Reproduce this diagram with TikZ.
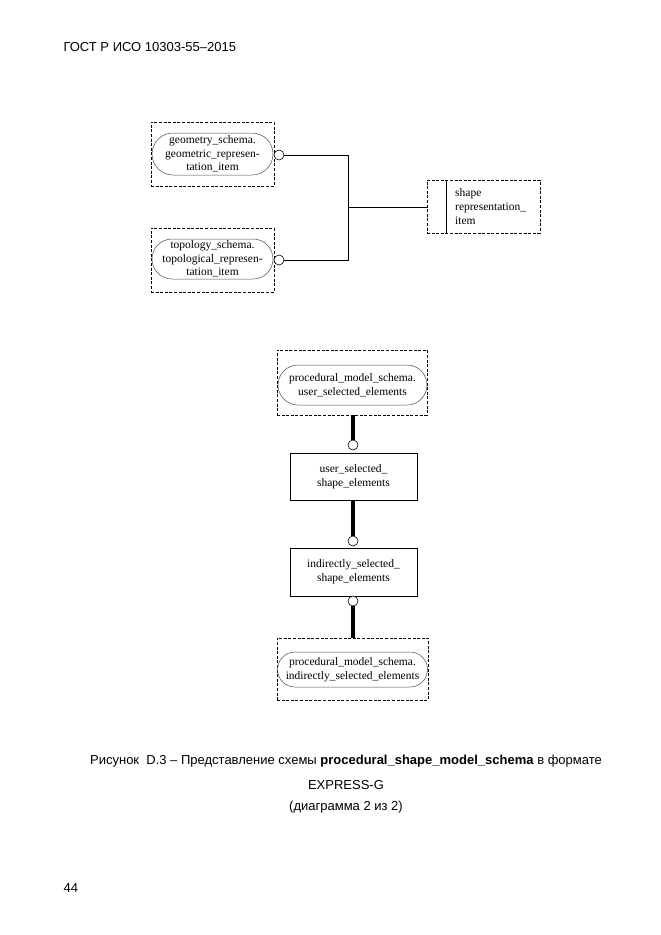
\documentclass[tikz,border=0pt]{standalone}
\usepackage{fontspec}
\setmainfont{Liberation Serif}
\newfontfamily\capfont{Liberation Sans}
\begin{document}
\begin{tikzpicture}[x=1pt,y=-1pt,
  dbox/.style 2 args={draw, dash pattern=on 3pt off 1.6pt, line width=0.6pt, minimum width=#1, minimum height=#2, inner sep=0pt},
  pill/.style n args={3}{draw=black!70, line width=0.5pt, rounded corners=#3, minimum width=#1, minimum height=#2, inner sep=0pt, align=center, font=\fontsize{11.5}{13.5}\selectfont},
  ebox/.style 2 args={draw, line width=0.6pt, minimum width=#1, minimum height=#2, inner sep=0pt, align=center, font=\fontsize{11.5}{14}\selectfont},
  ring/.style={draw, circle, fill=white, line width=0.6pt, minimum size=10pt, inner sep=0pt},
  thin/.style={line width=0.6pt},
  thick/.style={line width=4pt},
  captxt/.style={font=\capfont\fontsize{13}{15}\selectfont}
]
\useasboundingbox (0,0) rectangle (661,935);

% header and page number
\node[captxt, anchor=west] (hdr) at (60,47) {ГОСТ Р ИСО 10303-55–2015};
\node[captxt, anchor=west] (pg) at (60,888) {44};

% ---------- top diagram ----------
\node[dbox={123pt}{64pt}] (gbox) at (212.5,154) {};
\node[pill={121pt}{42pt}{21pt}] (gpill) at (212.5,154) {geometry\_schema.\\geometric\_represen-\\tation\_item};
\node[ring] (gring) at (279,155) {};

\node[dbox={123pt}{64pt}] (tbox) at (212.5,260) {};
\node[pill={121pt}{40pt}{20pt}] (tpill) at (212.5,259) {topology\_schema.\\topological\_represen-\\tation\_item};
\node[ring] (tring) at (279,260) {};

\node[dbox={113pt}{53pt}] (sbox) at (483.5,206.5) {};
\coordinate (sbar) at (446,180);
\draw[thin] (sbar) -- ++(0,53);
\node[anchor=west, align=left, inner sep=0pt, font=\fontsize{11.5}{14}\selectfont] (stxt) at (455,207) {shape\\representation\_\\item};

\coordinate (jt) at (348,155);
\coordinate (jb) at (348,260);
\coordinate (jm) at (348,207);
\draw[thin] (gring.east) -- (jt) -- (jb) -- (tring.east);
\draw[thin] (jm) -- (sbox.west |- jm);

% ---------- lower diagram ----------
\node[dbox={150pt}{65pt}] (ubox) at (352,382.5) {};
\node[pill={149pt}{40pt}{20pt}] (upill) at (352.5,385) {procedural\_model\_schema.\\user\_selected\_elements};
\node[ring] (r1) at (353,445) {};

\node[ebox={127pt}{47pt}] (ea) at (353.5,476.5) {user\_selected\_\\shape\_elements};
\node[ring] (r2) at (353,541) {};

\node[ebox={127pt}{48pt}] (eb) at (353.5,572) {indirectly\_selected\_\\shape\_elements};
\node[ring] (r3) at (353,601) {};

\node[dbox={151pt}{62pt}] (ibox) at (352.5,669) {};
\node[pill={150pt}{35pt}{17.5pt}] (ipill) at (352.5,669.5) {procedural\_model\_schema.\\indirectly\_selected\_elements};

\draw[thick] (r1.north) -- (r1.north |- ubox.south);
\draw[thick] (r2.north) -- (r2.north |- ea.south);
\draw[thick] (r3.south) -- (r3.south |- ibox.north);

% ---------- caption ----------
\node[captxt] (cap1) at (346,761) {Рисунок\ \ D.3 – Представление схемы \textbf{procedural\_shape\_model\_schema} в формате};
\node[captxt] (cap2) at (346,785) {EXPRESS-G};
\node[captxt] (cap3) at (346,807) {(диаграмма 2 из 2)};
\end{tikzpicture}
\end{document}
